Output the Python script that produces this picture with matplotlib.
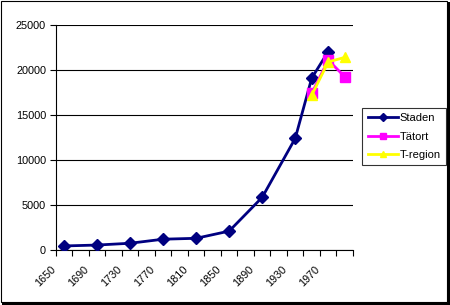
import matplotlib
matplotlib.use("Agg")
import matplotlib.pyplot as plt
from matplotlib.patches import Rectangle
from matplotlib.lines import Line2D

plt.rcParams['font.family'] = ['Liberation Sans', 'DejaVu Sans']

categories = [1650, 1670, 1690, 1710, 1730, 1750, 1770, 1790, 1810, 1830,
              1850, 1870, 1890, 1910, 1930, 1950, 1970, 1990]
tick_labels = ['1650', '1690', '1730', '1770', '1810', '1850', '1890', '1930', '1970']

staden_years = [1650, 1690, 1730, 1770, 1810, 1850, 1890, 1930, 1950, 1970]
staden_vals = [450, 550, 750, 1200, 1300, 2100, 5850, 12400, 19100, 22050]
tatort_years = [1950, 1970, 1990]
tatort_vals = [17400, 21100, 19250]
tregion_years = [1950, 1970, 1990]
tregion_vals = [17200, 20900, 21400]

W, H = 450, 305
fig = plt.figure(figsize=(W / 100, H / 100), dpi=100)
fig.patch.set_facecolor('white')

# chart border with shadow
fig.patches.append(Rectangle((2 / W, 0), 448 / W, 303 / H, transform=fig.transFigure,
                             facecolor='black', edgecolor='none', zorder=-2))
fig.patches.append(Rectangle((0.5 / W, 3 / H), 446 / W, 301.5 / H, transform=fig.transFigure,
                             facecolor='white', edgecolor='black', linewidth=0.8, zorder=-1))

left, right, top, bottom = 55.8, 353, 25, 250
ax = fig.add_axes([left / W, (H - bottom) / H, (right - left) / W, (bottom - top) / H])
ax.set_facecolor('none')
ax.set_zorder(2)

def pos(years):
    return [categories.index(y) for y in years]

ax.plot(pos(staden_years), staden_vals, color='#000080', lw=2, marker='D', ms=6,
        label='Staden', zorder=3)
ax.plot(pos(tatort_years), tatort_vals, color='#FF00FF', lw=2, marker='s', ms=6.5,
        label='Tätort', zorder=4)
ax.plot(pos(tregion_years), tregion_vals, color='#FFFF00', lw=2, marker='^', ms=7.5,
        label='T-region', zorder=5)

ax.set_xlim(-0.5, len(categories) - 0.5)
ax.set_ylim(0, 25000)
ax.set_yticks(range(0, 25001, 5000))
ax.yaxis.grid(True, color='black', lw=0.8)
ax.set_axisbelow(True)

for s in ['top', 'right']:
    ax.spines[s].set_visible(False)
for s in ['left', 'bottom']:
    ax.spines[s].set_color('black')
    ax.spines[s].set_linewidth(0.8)

ax.tick_params(axis='y', direction='out', length=4, width=0.8, pad=3, labelsize=7.8)

# category boundary ticks
ax.set_xticks([i - 0.5 for i in range(len(categories) + 1)], minor=True)
ax.tick_params(axis='x', which='minor', direction='out', length=4, width=0.8)
label_pos = [categories.index(int(t)) - 0.41 for t in tick_labels]
ax.set_xticks(label_pos)
ax.set_xticklabels(tick_labels, rotation=45, ha='right', va='top', fontsize=7.8)
ax.tick_params(axis='x', which='major', length=0, pad=10)

leg = fig.legend(handles=[
    Line2D([], [], color='#000080', lw=2, marker='D', ms=4),
    Line2D([], [], color='#FF00FF', lw=2, marker='s', ms=4),
    Line2D([], [], color='#FFFF00', lw=2, marker='^', ms=5)],
    labels=['Staden', 'Tätort', 'T-region'],
    loc='upper left', bbox_to_anchor=(362 / W, 1 - 107.7 / H),
    frameon=True, fancybox=False, edgecolor='black', fontsize=8,
    handlelength=2.7, handletextpad=0.18, labelspacing=0.75, borderpad=0.5,
    borderaxespad=0)
leg.get_frame().set_linewidth(0.8)
leg.set_zorder(3)

fig.savefig('out.png', dpi=100, facecolor='white')
